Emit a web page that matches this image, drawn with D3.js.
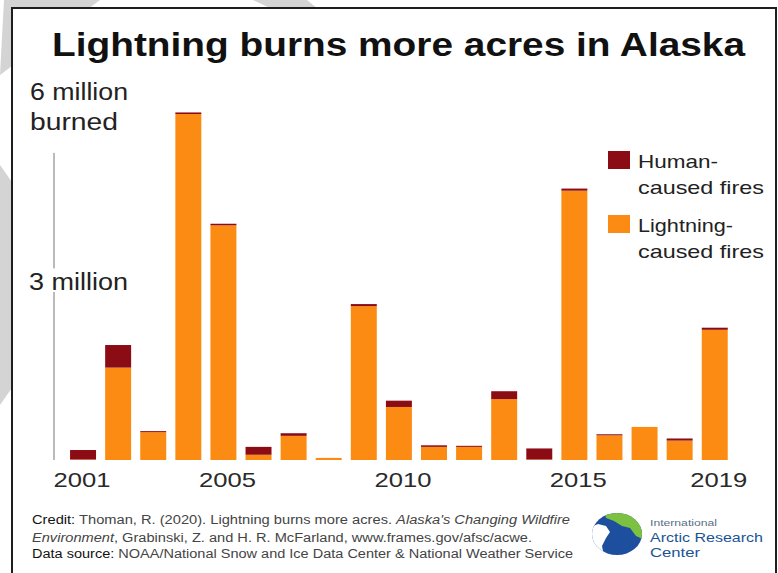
<!DOCTYPE html>
<html>
<head>
<meta charset="utf-8">
<script src="https://cdn.jsdelivr.net/npm/d3@7"></script>
<style>
  body { margin: 0; background: #fff; }
  text { font-family: "Liberation Sans", Arial, Helvetica, sans-serif; }
</style>
</head>
<body>
<svg id="chart" width="778" height="573"></svg>
<script>
// acres burned, millions
var years = [2001, 2002, 2003, 2004, 2005, 2006, 2007, 2008, 2009, 2010,
             2011, 2012, 2013, 2014, 2015, 2016, 2017, 2018, 2019];
var lightning = [0.01, 1.76, 0.53, 6.59, 4.47, 0.10, 0.46, 0.04, 2.93, 1.01,
                 0.25, 0.25, 1.16, 0.01, 5.13, 0.47, 0.63, 0.37, 2.48];
var human = [0.18, 0.43, 0.02, 0.03, 0.03, 0.15, 0.05, 0.00, 0.04, 0.12,
             0.03, 0.02, 0.15, 0.21, 0.04, 0.02, 0.00, 0.04, 0.04];
var yearTicks = [2001, 2005, 2010, 2015, 2019];
var yLabels = [['6 million', 'burned'], ['3 million']];
var legendItems = [
    {key: 'human', lines: ['Human-', 'caused fires']},
    {key: 'lightning', lines: ['Lightning-', 'caused fires']}
];

var colors = {lightning: '#fb8b12', human: '#8c0c16'};

function drawFrame() {
    let svg = d3.select('#chart');
    // grey watermark bands seen in the margin
    var bands = [
        [[4, 0], [100, 0], [0, 75]],
        [[253, 0], [307, 0], [318, 9], [272, 9]],
        [[0, 165], [14, 185], [14, 385], [0, 405]]
    ];
    svg.selectAll('polygon.band')
        .data(bands)
        .enter().append('polygon')
        .attr('class', 'band')
        .attr('points', function(d) { return d.join(' '); })
        .style('fill', '#d4d4d4');
    svg.append('rect')
        .attr('x', 12).attr('y', 8)
        .attr('width', 764).attr('height', 600)
        .style('fill', '#fff')
        .style('stroke', '#1e1e1e')
        .style('stroke-width', '2px');
    svg.append('text')
        .attr('x', 52).attr('y', 56)
        .attr('textLength', 693).attr('lengthAdjust', 'spacingAndGlyphs')
        .style('font-size', '33px')
        .style('font-weight', 'bold')
        .style('fill', '#111')
        .text('Lightning burns more acres in Alaska');
}

function drawBars() {
    let svg = d3.select('#chart');
    var x = d3.scaleBand()
            .domain(years)
            .range([65.5, 732.3])
            .paddingInner(0.26)
            .paddingOuter(0.13);
    var y = d3.scaleLinear()
            .domain([0, 6])
            .range([460, 145]);

    var rows = years.map(function(yr, i) {
        return {year: yr, lightning: lightning[i], human: human[i]};
    });
    var series = d3.stack().keys(['lightning', 'human'])(rows);

    svg.append('g')
        .selectAll('g')
        .data(series)
        .enter().append('g')
        .style('fill', function(d) { return colors[d.key]; })
        .selectAll('rect')
        .data(function(d) { return d; })
        .enter().append('rect')
        .attr('x', function(d) { return x(d.data.year); })
        .attr('y', function(d) { return y(d[1]); })
        .attr('width', x.bandwidth())
        .attr('height', function(d) { return y(d[0]) - y(d[1]); });

    // vertical axis line, broken behind the 3 million label
    svg.append('line')
        .attr('x1', 54).attr('x2', 54)
        .attr('y1', y(5.85)).attr('y2', y(3.65))
        .style('stroke', '#777').style('stroke-width', '1px');
    svg.append('line')
        .attr('x1', 54).attr('x2', 54)
        .attr('y1', y(3.2)).attr('y2', y(0))
        .style('stroke', '#777').style('stroke-width', '1px');

    // y labels sit above their value
    var yl = svg.append('g').attr('class', 'ylab');
    yl.append('text').attr('x', 30).attr('y', 100)
        .attr('textLength', 98).attr('lengthAdjust', 'spacingAndGlyphs')
        .style('font-size', '23.5px').style('fill', '#222')
        .text(yLabels[0][0]);
    yl.append('text').attr('x', 30).attr('y', y(6) - 15)
        .attr('textLength', 88).attr('lengthAdjust', 'spacingAndGlyphs')
        .style('font-size', '23.5px').style('fill', '#222')
        .text(yLabels[0][1]);
    yl.append('text').attr('x', 29).attr('y', y(3) - 13)
        .attr('textLength', 99).attr('lengthAdjust', 'spacingAndGlyphs')
        .style('font-size', '23.5px').style('fill', '#222')
        .text(yLabels[1][0]);

    var xAxis = svg.append('g')
        .attr('transform', 'translate(0,460)')
        .call(d3.axisBottom(x).tickValues(yearTicks).tickSize(0).tickPadding(0));
    xAxis.select('.domain').remove();
    xAxis.selectAll('text')
        .attr('y', 27)
        .attr('dy', 0)
        .attr('dx', function(d) { return d === 2001 ? -1 : 4; })
        .attr('textLength', 57).attr('lengthAdjust', 'spacingAndGlyphs')
        .style('font-family', '"Liberation Sans", Arial, sans-serif')
        .style('font-size', '21px')
        .style('fill', '#2a2a2a');
}

function drawLegend() {
    let svg = d3.select('#chart');
    var widths = [[80, 126], [95, 126]];
    var g = svg.append('g').attr('class', 'legend');
    legendItems.forEach(function(item, i) {
        var top = 151 + i * 64;
        g.append('rect')
            .attr('x', 608).attr('y', top)
            .attr('width', 22).attr('height', 18)
            .style('fill', colors[item.key]);
        item.lines.forEach(function(line, j) {
            g.append('text')
                .attr('x', 638).attr('y', top + 17 + j * 25.5)
                .attr('textLength', widths[i][j]).attr('lengthAdjust', 'spacingAndGlyphs')
                .style('font-size', '19px')
                .style('fill', '#222')
                .text(line);
        });
    });
}

function drawCredits() {
    let svg = d3.select('#chart');
    var t1 = svg.append('text').attr('x', 32).attr('y', 524)
        .attr('textLength', 538).attr('lengthAdjust', 'spacingAndGlyphs')
        .style('font-size', '12.5px').style('fill', '#444');
    t1.append('tspan').style('fill', '#111').text('Credit: ');
    t1.append('tspan').text('Thoman, R. (2020). Lightning burns more acres. ');
    t1.append('tspan').style('font-style', 'italic').text("Alaska's Changing Wildfire");

    var t2 = svg.append('text').attr('x', 32).attr('y', 542)
        .attr('textLength', 500).attr('lengthAdjust', 'spacingAndGlyphs')
        .style('font-size', '12.5px').style('fill', '#444');
    t2.append('tspan').style('font-style', 'italic').text('Environment');
    t2.append('tspan').text(', Grabinski, Z. and H. R. McFarland, www.frames.gov/afsc/acwe.');

    var t3 = svg.append('text').attr('x', 32).attr('y', 558)
        .attr('textLength', 541).attr('lengthAdjust', 'spacingAndGlyphs')
        .style('font-size', '12.5px').style('fill', '#444');
    t3.append('tspan').style('fill', '#111').text('Data source: ');
    t3.append('tspan').text('NOAA/National Snow and Ice Data Center & National Weather Service');

    // IARC logo
    var logo = svg.append('g').attr('class', 'logo');
    logo.append('clipPath').attr('id', 'globeClip')
        .append('ellipse').attr('cx', 617).attr('cy', 534).attr('rx', 25).attr('ry', 21);
    logo.append('ellipse')
        .attr('cx', 617).attr('cy', 534).attr('rx', 25).attr('ry', 21)
        .style('fill', '#1d4f9e');
    var inner = logo.append('g').attr('clip-path', 'url(#globeClip)');
    inner.append('path')
        .attr('d', 'M604,510 L645,510 L645,540 L636,536 L630,528 L622,526 L614,521 L606,518 Z')
        .style('fill', '#7cc142');
    inner.append('path')
        .attr('d', 'M588,528 L598,524 L606,526 L610,532 L606,538 L602,546 L604,556 L594,556 L590,546 Z')
        .style('fill', '#fff');
    logo.append('text').attr('x', 650).attr('y', 526)
        .attr('textLength', 67).attr('lengthAdjust', 'spacingAndGlyphs')
        .style('font-size', '9px').style('fill', '#5a6f86')
        .text('International');
    logo.append('text').attr('x', 650).attr('y', 541.5)
        .attr('textLength', 113).attr('lengthAdjust', 'spacingAndGlyphs')
        .style('font-size', '13px').style('fill', '#1b5494')
        .text('Arctic Research');
    logo.append('text').attr('x', 650).attr('y', 557)
        .attr('textLength', 50).attr('lengthAdjust', 'spacingAndGlyphs')
        .style('font-size', '13px').style('fill', '#1b5494')
        .text('Center');
}

drawFrame();
drawBars();
drawLegend();
drawCredits();
</script>
</body>
</html>
